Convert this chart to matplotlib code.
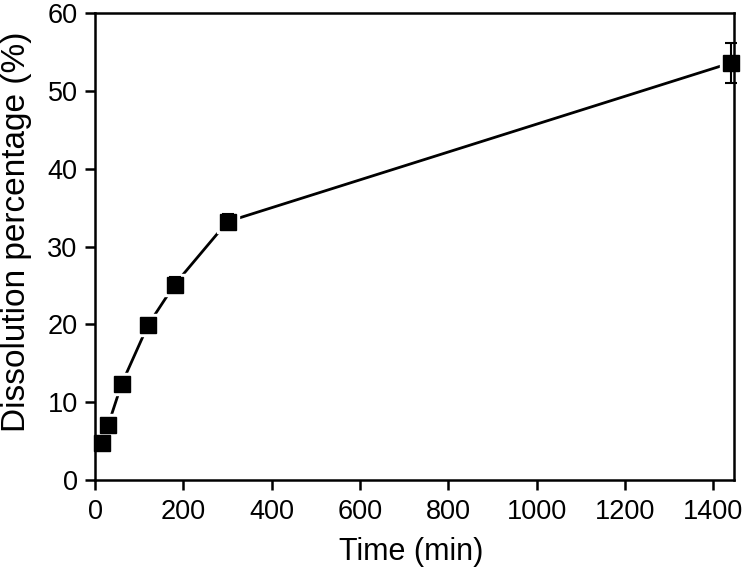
import matplotlib.pyplot as plt

plt.rcParams['font.family'] = ['Liberation Sans', 'DejaVu Sans']

# dissolution data
time_min = [15, 30, 60, 120, 180, 300, 1440]
dissolution = [4.8, 7.1, 12.3, 19.9, 25.1, 33.2, 53.6]
dissolution_err = [0.3, 0.4, 0.5, 0.5, 1.0, 1.0, 2.6]

x_ticks = [0, 200, 400, 600, 800, 1000, 1200, 1400]
y_ticks = [0, 10, 20, 30, 40, 50, 60]

fig = plt.figure(figsize=(7.44, 5.67), dpi=100)
ax = fig.add_axes([0.1277, 0.1534, 0.859, 0.8236])

# connecting line, with a small white halo round each marker (Origin style gap)
ax.plot(time_min, dissolution, color='black', linewidth=2, zorder=1, clip_on=False)
ax.plot(time_min, dissolution, linestyle='none', marker='s', markersize=16,
        color='white', zorder=2, clip_on=False)
ax.errorbar(time_min, dissolution, yerr=dissolution_err, color='black',
            linestyle='none', marker='s', markersize=12, elinewidth=1.5,
            capsize=4, capthick=1.5, clip_on=False, zorder=3)

ax.set_xlim(0, 1447)
ax.set_ylim(0, 60)
ax.set_xticks(x_ticks)
ax.set_yticks(y_ticks)
ax.tick_params(direction='out', length=7, width=1.8, labelsize=19.5)
ax.tick_params(axis='x', pad=6.5)
ax.tick_params(axis='y', pad=5.5)
for s in ax.spines.values():
    s.set_linewidth(1.8)
    s.set_zorder(4)

ax.set_xlabel('Time (min)', fontsize=22)
ax.set_ylabel('Dissolution percentage (%)', fontsize=24)
ax.xaxis.set_label_coords(0.4945, -0.121)
ax.yaxis.set_label_coords(-0.098, 0.531)

fig.savefig('out.png', dpi=100)
